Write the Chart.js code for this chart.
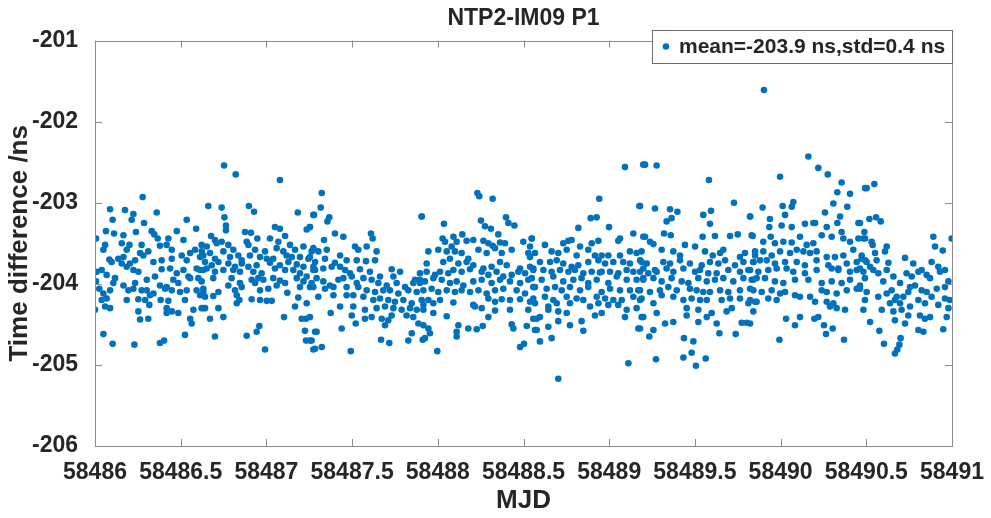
<!DOCTYPE html>
<html>
<head>
<meta charset="utf-8">
<title>NTP2-IM09 P1</title>
<script src="https://cdn.jsdelivr.net/npm/chart.js@4.4.1/dist/chart.umd.min.js"></script>
<style>
  html, body { margin: 0; padding: 0; background: #fff; }
  #wrap { width: 991px; height: 518px; }
</style>
</head>
<body>
<div id="wrap"><canvas id="chart" width="991" height="518"></canvas></div>
<script>
"use strict";

// Axis ticks
const xTicks = [58486, 58486.5, 58487, 58487.5, 58488, 58488.5, 58489, 58489.5, 58490, 58490.5, 58491];
const yTicks = [-206, -205, -204, -203, -202, -201];

const chartTitle = 'NTP2-IM09 P1';
const xTitle = 'MJD';
const yTitle = 'Time difference /ns';
const seriesLabel = 'mean=-203.9 ns,std=0.4 ns';

// [MJD, time difference (ns)]
const points = [
  [58486.278,-202.93],
  [58486.088,-203.08],[58486.175,-203.09],[58486.360,-203.12],[58486.224,-203.14],
  [58486.103,-203.21],[58486.535,-203.21],[58486.286,-203.25],[58486.214,-203.21],
  [58486.006,-203.44],[58486.064,-203.35],[58486.111,-203.38],[58486.166,-203.40],[58486.239,-203.36],[58486.331,-203.35],[58486.346,-203.39],[58486.366,-203.44],[58486.428,-203.44],[58486.477,-203.35],[58486.590,-203.32],
  [58486.059,-203.52],[58486.156,-203.50],[58486.201,-203.52],[58486.272,-203.52],[58486.379,-203.53],[58486.418,-203.52],[58486.516,-203.46],[58486.448,-203.58],[58486.049,-203.58],[58486.185,-203.58],[58486.263,-203.62],[58486.311,-203.60],[58486.555,-203.62],[58486.584,-203.58],[58486.623,-203.60],
  [58486.084,-203.70],[58486.136,-203.69],[58486.166,-203.67],[58486.204,-203.75],[58486.234,-203.71],[58486.282,-203.65],[58486.341,-203.73],[58486.389,-203.71],[58486.448,-203.69],[58486.506,-203.65],[58486.535,-203.71],[58486.613,-203.67],
  [58486.010,-203.85],[58486.039,-203.83],[58486.097,-203.73],[58486.156,-203.75],[58486.185,-203.79],[58486.224,-203.83],[58486.253,-203.85],[58486.389,-203.82],[58486.438,-203.81],[58486.477,-203.87],[58486.516,-203.83],[58486.555,-203.93],[58486.593,-203.81],[58486.632,-203.83],
  [58486.006,-203.97],[58486.068,-203.89],[58486.117,-203.93],[58486.107,-203.99],[58486.166,-204.02],[58486.234,-203.99],[58486.302,-203.95],[58486.350,-203.91],[58486.379,-204.02],[58486.418,-204.04],[58486.457,-203.95],[58486.486,-203.99],[58486.545,-203.91],[58486.603,-203.93],
  [58486.025,-204.06],[58486.049,-204.12],[58486.088,-204.08],[58486.195,-204.08],[58486.224,-204.06],[58486.272,-204.08],[58486.302,-204.08],[58486.341,-204.12],[58486.409,-204.06],[58486.448,-204.08],[58486.496,-204.10],[58486.535,-204.08],[58486.593,-204.08],[58486.632,-204.10],
  [58486.039,-204.20],[58486.068,-204.18],[58486.185,-204.20],[58486.253,-204.19],[58486.292,-204.20],[58486.321,-204.14],[58486.383,-204.20],[58486.428,-204.21],[58486.525,-204.20],[58486.613,-204.14],
  [58486.000,-204.32],[58486.059,-204.28],[58486.088,-204.30],[58486.253,-204.34],[58486.317,-204.26],[58486.418,-204.30],[58486.448,-204.34],[58486.486,-204.36],[58486.574,-204.32],[58486.632,-204.30],
  [58486.263,-204.44],[58486.311,-204.43],[58486.418,-204.36],[58486.555,-204.43],[58486.564,-204.49],
  [58486.049,-204.62],[58486.525,-204.63],
  [58486.103,-204.74],[58486.230,-204.75],[58486.379,-204.73],[58486.403,-204.70],

  [58486.753,-202.54],[58486.821,-202.65],[58487.079,-202.72],
  [58486.661,-203.04],[58486.739,-203.06],[58486.898,-203.04],[58486.928,-203.11],[58487.183,-203.12],[58487.274,-203.15],
  [58486.755,-203.18],[58486.764,-203.28],[58486.764,-203.34],[58487.050,-203.30],[58487.079,-203.32],[58487.235,-203.33],[58487.254,-203.30],
  [58486.677,-203.41],[58486.700,-203.46],[58486.875,-203.36],[58486.910,-203.37],[58486.947,-203.44],[58487.021,-203.44],[58487.070,-203.48],[58487.109,-203.41],[58486.885,-203.48],
  [58486.622,-203.52],[58486.652,-203.54],[58486.710,-203.50],[58486.739,-203.48],[58486.778,-203.52],[58486.807,-203.58],[58486.895,-203.52],[58486.934,-203.58],[58486.992,-203.60],[58487.060,-203.56],[58487.099,-203.60],[58487.138,-203.52],[58487.167,-203.58],[58487.216,-203.54],[58487.264,-203.60],
  [58486.632,-203.65],[58486.671,-203.62],[58486.700,-203.69],[58486.749,-203.60],[58486.788,-203.67],[58486.836,-203.65],[58486.856,-203.71],[58486.904,-203.65],[58486.963,-203.67],[58487.002,-203.69],[58487.040,-203.69],[58487.118,-203.65],[58487.148,-203.67],[58487.196,-203.67],[58487.245,-203.69],
  [58486.642,-203.73],[58486.681,-203.77],[58486.720,-203.73],[58486.778,-203.75],[58486.817,-203.79],[58486.856,-203.75],[58486.895,-203.79],[58486.943,-203.77],[58487.021,-203.74],[58487.079,-203.77],[58487.128,-203.73],[58487.177,-203.76],[58487.216,-203.79],[58487.274,-203.79],
  [58486.613,-203.83],[58486.652,-203.81],[58486.700,-203.85],[58486.749,-203.83],[58486.807,-203.83],[58486.846,-203.85],[58486.924,-203.85],[58486.972,-203.87],[58487.050,-203.81],[58487.109,-203.83],[58487.157,-203.83],[58487.196,-203.87],[58487.235,-203.91],[58487.274,-203.83],
  [58486.622,-203.97],[58486.690,-203.93],[58486.797,-203.93],[58486.846,-203.99],[58486.914,-203.95],[58486.953,-203.93],[58486.982,-203.95],[58487.040,-203.93],[58487.079,-203.96],[58487.109,-203.99],[58487.177,-203.93],[58487.216,-203.97],[58487.264,-203.99],
  [58486.632,-204.06],[58486.720,-204.10],[58486.778,-204.02],[58486.817,-204.08],[58486.856,-204.04],[58486.934,-203.99],[58486.963,-204.08],[58487.011,-204.06],[58487.060,-204.02],[58487.196,-204.04],[58487.254,-204.04],
  [58486.642,-204.16],[58486.690,-204.15],[58486.827,-204.14],[58486.842,-204.20],[58486.914,-204.19],[58486.963,-204.20],[58487.002,-204.21],[58487.031,-204.21],[58487.122,-204.11],[58487.186,-204.17],
  [58486.622,-204.30],[58486.642,-204.30],[58486.720,-204.30],[58486.827,-204.24],[58487.167,-204.28],[58487.235,-204.24],
  [58486.671,-204.43],[58486.749,-204.41],[58487.103,-204.41],[58487.206,-204.43],[58487.231,-204.43],
  [58486.959,-204.52],[58486.943,-204.59],[58487.225,-204.58],[58487.284,-204.59],
  [58486.700,-204.65],[58486.885,-204.64],[58487.231,-204.70],[58487.264,-204.70],[58486.992,-204.81],[58487.274,-204.81],

  [58487.323,-202.88],[58487.317,-203.06],[58487.278,-203.15],[58487.367,-203.18],[58487.356,-203.23],[58487.906,-203.17],
  [58487.254,-203.30],[58487.400,-203.38],[58487.449,-203.42],[58487.336,-203.46],[58487.610,-203.38],[58487.620,-203.44],
  [58487.274,-203.56],[58487.303,-203.60],[58487.352,-203.58],[58487.430,-203.65],[58487.517,-203.54],[58487.536,-203.58],[58487.585,-203.54],[58487.643,-203.60],[58487.254,-203.67],
  [58487.284,-203.73],[58487.342,-203.69],[58487.400,-203.74],[58487.468,-203.71],[58487.527,-203.71],[58487.581,-203.72],[58487.634,-203.71],[58487.731,-203.82],
  [58487.284,-203.83],[58487.332,-203.81],[58487.381,-203.79],[58487.430,-203.79],[58487.459,-203.83],[58487.488,-203.87],[58487.546,-203.82],[58487.604,-203.85],[58487.663,-203.91],[58487.741,-203.91],[58487.780,-203.85],[58487.867,-203.95],[58487.896,-203.95],
  [58487.293,-203.93],[58487.332,-203.97],[58487.371,-204.02],[58487.420,-203.95],[58487.449,-203.93],[58487.498,-203.91],[58487.527,-203.99],[58487.566,-203.93],[58487.614,-203.95],[58487.653,-203.99],[58487.702,-204.02],[58487.760,-203.99],[58487.809,-204.04],[58487.857,-203.99],
  [58487.274,-204.04],[58487.342,-204.06],[58487.391,-204.04],[58487.468,-204.04],[58487.536,-204.04],[58487.585,-204.08],[58487.634,-204.10],[58487.682,-204.08],[58487.721,-204.08],[58487.770,-204.12],[58487.828,-204.08],[58487.877,-204.10],
  [58487.303,-204.16],[58487.391,-204.14],[58487.468,-204.14],[58487.507,-204.14],[58487.566,-204.16],[58487.624,-204.20],[58487.663,-204.18],[58487.711,-204.20],[58487.750,-204.22],[58487.799,-204.20],[58487.848,-204.24],[58487.906,-204.20],
  [58487.430,-204.28],[58487.507,-204.28],[58487.575,-204.32],[58487.643,-204.30],[58487.692,-204.28],[58487.741,-204.30],[58487.789,-204.32],[58487.838,-204.30],[58487.877,-204.32],[58487.916,-204.26],
  [58487.375,-204.36],[58487.498,-204.39],[58487.575,-204.43],[58487.614,-204.41],[58487.673,-204.43],[58487.711,-204.45],[58487.731,-204.39],[58487.818,-204.39],[58487.857,-204.41],[58487.887,-204.49],[58487.254,-204.41],
  [58487.439,-204.55],[58487.521,-204.49],[58487.692,-204.51],[58487.848,-204.61],[58487.293,-204.59],[58487.828,-204.70],[58487.254,-204.70],[58487.669,-204.69],[58487.717,-204.73],[58487.912,-204.69],
  [58487.284,-204.80],[58487.323,-204.78],[58487.492,-204.83],

  [58488.231,-202.88],[58488.242,-202.92],[58488.320,-202.95],
  [58487.906,-203.17],[58488.036,-203.26],[58488.252,-203.22],[58488.275,-203.29],[58488.310,-203.32],[58488.398,-203.18],[58488.412,-203.25],[58488.447,-203.28],
  [58488.028,-203.44],[58488.042,-203.48],[58488.091,-203.42],[58488.110,-203.48],[58488.143,-203.39],[58488.168,-203.47],[58488.207,-203.46],[58488.266,-203.47],[58488.295,-203.50],[58488.320,-203.53],[58488.353,-203.39],[58488.363,-203.49],[58488.392,-203.50],[58488.499,-203.48],[58488.548,-203.44],
  [58487.945,-203.60],[58488.003,-203.58],[58488.052,-203.60],[58488.081,-203.54],[58488.100,-203.60],[58488.139,-203.62],[58488.178,-203.69],[58488.237,-203.58],[58488.285,-203.62],[58488.334,-203.56],[58488.373,-203.62],[58488.431,-203.58],[58488.528,-203.62],
  [58487.935,-203.75],[58488.032,-203.73],[58488.071,-203.69],[58488.120,-203.75],[58488.168,-203.73],[58488.207,-203.77],[58488.266,-203.81],[58488.314,-203.79],[58488.363,-203.73],[58488.402,-203.77],[58488.480,-203.81],[58488.538,-203.79],
  [58487.896,-203.87],[58487.935,-203.85],[58487.984,-203.89],[58488.013,-203.85],[58488.061,-203.87],[58488.091,-203.83],[58488.139,-203.85],[58488.188,-203.82],[58488.256,-203.85],[58488.295,-203.89],[58488.343,-203.85],[58488.382,-203.91],[58488.431,-203.89],[58488.470,-203.85],[58488.509,-203.87],[58488.557,-203.83],
  [58487.896,-203.99],[58487.925,-203.97],[58487.974,-203.93],[58488.023,-203.95],[58488.071,-203.99],[58488.110,-203.97],[58488.149,-204.02],[58488.207,-203.97],[58488.256,-203.95],[58488.314,-203.99],[58488.363,-203.95],[58488.421,-203.97],[58488.480,-203.99],[58488.528,-203.95],
  [58487.916,-204.08],[58487.964,-204.06],[58488.003,-204.10],[58488.052,-204.08],[58488.100,-204.10],[58488.139,-204.08],[58488.188,-204.10],[58488.237,-204.08],[58488.285,-204.12],[58488.334,-204.08],[58488.382,-204.06],[58488.460,-204.08],[58488.509,-204.12],[58488.557,-204.04],
  [58487.945,-204.20],[58487.974,-204.24],[58488.013,-204.20],[58488.091,-204.23],[58488.207,-204.26],[58488.256,-204.30],[58488.295,-204.18],[58488.373,-204.19],[58488.421,-204.20],[58488.480,-204.19],[58488.538,-204.22],[58488.334,-204.22],
  [58487.916,-204.32],[58487.974,-204.36],[58488.052,-204.40],[58488.217,-204.28],[58488.295,-204.41],[58488.334,-204.33],[58488.421,-204.32],[58488.528,-204.32],[58488.557,-204.43],
  [58487.916,-204.51],[58487.945,-204.55],[58488.120,-204.51],[58488.110,-204.59],[58488.178,-204.55],[58488.227,-204.56],[58488.262,-204.52],[58488.431,-204.50],[58488.441,-204.55],[58488.519,-204.52],[58488.567,-204.57],
  [58487.925,-204.67],[58487.954,-204.61],[58488.110,-204.65],[58487.997,-204.83],[58488.480,-204.78],[58488.503,-204.74],

  [58489.092,-202.56],[58489.199,-202.53],
  [58488.942,-202.95],[58489.176,-203.04],
  [58488.892,-203.19],[58488.927,-203.18],[58488.820,-203.31],[58488.999,-203.30],[58489.141,-203.38],
  [58488.548,-203.44],[58488.625,-203.52],[58488.732,-203.50],[58488.762,-203.47],[58488.781,-203.46],[58488.830,-203.54],[58488.898,-203.50],[58488.937,-203.47],[58489.053,-203.47],[58489.063,-203.44],[58489.199,-203.42],[58488.538,-203.54],
  [58488.567,-203.62],[58488.664,-203.60],[58488.703,-203.62],[58488.752,-203.58],[58488.810,-203.65],[58488.878,-203.58],[58488.917,-203.65],[58488.956,-203.65],[58488.995,-203.65],[58489.063,-203.65],[58489.121,-203.60],[58489.160,-203.62],[58489.189,-203.60],
  [58488.538,-203.67],[58488.596,-203.73],[58488.655,-203.73],[58488.694,-203.71],[58488.732,-203.75],[58488.781,-203.79],[58488.820,-203.77],[58488.878,-203.73],[58488.937,-203.71],[58488.976,-203.75],[58489.024,-203.73],[58489.082,-203.73],[58489.121,-203.75],[58489.180,-203.71],[58488.946,-203.86],
  [58488.557,-203.81],[58488.616,-203.83],[58488.664,-203.85],[58488.713,-203.83],[58488.762,-203.85],[58488.800,-203.83],[58488.849,-203.87],[58488.898,-203.85],[58488.956,-203.85],[58489.005,-203.85],[58489.053,-203.87],[58489.102,-203.83],[58489.141,-203.85],[58489.199,-203.81],
  [58488.548,-203.93],[58488.606,-203.95],[58488.674,-203.91],[58488.732,-203.97],[58488.791,-203.95],[58488.839,-203.93],[58488.878,-203.99],[58488.927,-203.95],[58488.995,-203.99],[58489.044,-203.91],[58489.102,-203.95],[58489.160,-203.95],[58489.199,-203.93],
  [58488.567,-204.04],[58488.635,-204.06],[58488.684,-204.04],[58488.723,-204.08],[58488.771,-204.04],[58488.830,-204.08],[58488.878,-204.04],[58488.956,-204.10],[58489.005,-204.06],[58489.063,-204.08],[58489.121,-204.08],[58489.170,-204.08],
  [58488.557,-204.18],[58488.625,-204.16],[58488.674,-204.20],[58488.752,-204.16],[58488.810,-204.18],[58488.849,-204.20],[58488.927,-204.16],[58488.976,-204.18],[58489.024,-204.20],[58489.073,-204.20],[58489.141,-204.16],[58489.180,-204.20],
  [58488.567,-204.24],[58488.645,-204.28],[58488.694,-204.24],[58488.771,-204.24],[58488.888,-204.28],[58488.937,-204.24],[58488.995,-204.26],[58489.053,-204.26],[58489.102,-204.32],[58489.160,-204.30],
  [58488.577,-204.43],[58488.645,-204.32],[58488.703,-204.34],[58488.752,-204.36],[58488.917,-204.39],[58488.956,-204.36],[58489.092,-204.41],[58489.189,-204.41],[58488.596,-204.41],
  [58488.645,-204.53],[58488.703,-204.46],[58488.771,-204.51],[58488.839,-204.46],[58488.577,-204.57],[58488.849,-204.58],[58489.170,-204.55],
  [58488.664,-204.67],[58488.596,-204.71],[58489.112,-204.98],[58488.703,-205.17],

  [58489.209,-202.53],[58489.277,-202.54],[58489.582,-202.72],
  [58489.180,-203.04],[58489.267,-203.07],[58489.355,-203.08],[58489.398,-203.11],[58489.549,-203.15],[58489.594,-203.10],[58489.588,-203.26],[58489.728,-203.00],[58489.822,-203.17],
  [58489.335,-203.23],[58489.364,-203.19],[58489.320,-203.38],[58489.359,-203.40],[58489.545,-203.42],[58489.617,-203.41],[58489.705,-203.41],[58489.750,-203.39],[58489.831,-203.40],
  [58489.209,-203.42],[58489.238,-203.48],[58489.258,-203.51],[58489.442,-203.52],[58489.501,-203.54],[58489.666,-203.58],[58489.647,-203.62],[58489.306,-203.58],[58489.374,-203.60],[58489.413,-203.65],[58489.559,-203.60],[58489.604,-203.65],[58489.763,-203.67],[58489.792,-203.62],[58489.851,-203.60],
  [58489.189,-203.73],[58489.219,-203.75],[58489.267,-203.83],[58489.316,-203.73],[58489.355,-203.75],[58489.413,-203.71],[58489.471,-203.75],[58489.540,-203.77],[58489.588,-203.73],[58489.637,-203.75],[58489.676,-203.71],[58489.734,-203.77],[58489.783,-203.73],[58489.841,-203.73],
  [58489.180,-203.85],[58489.228,-203.87],[58489.277,-203.85],[58489.335,-203.81],[58489.374,-203.85],[58489.433,-203.81],[58489.501,-203.85],[58489.530,-203.83],[58489.578,-203.87],[58489.627,-203.87],[58489.695,-203.83],[58489.763,-203.85],[58489.812,-203.83],
  [58489.199,-203.95],[58489.258,-203.93],[58489.306,-203.97],[58489.364,-203.93],[58489.423,-203.97],[58489.462,-203.99],[58489.520,-203.93],[58489.569,-203.97],[58489.617,-203.95],[58489.666,-203.93],[58489.724,-203.97],[58489.783,-203.93],[58489.841,-203.95],
  [58489.180,-204.08],[58489.238,-204.10],[58489.296,-204.08],[58489.345,-204.04],[58489.394,-204.08],[58489.471,-204.06],[58489.510,-204.08],[58489.549,-204.10],[58489.588,-204.10],[58489.647,-204.08],[58489.695,-204.10],[58489.763,-204.08],[58489.822,-204.06],
  [58489.189,-204.18],[58489.258,-204.24],[58489.306,-204.14],[58489.374,-204.16],[58489.433,-204.20],[58489.481,-204.18],[58489.530,-204.20],[58489.569,-204.20],[58489.656,-204.20],[58489.705,-204.18],[58489.763,-204.18],[58489.812,-204.24],[58489.851,-204.22],
  [58489.199,-204.41],[58489.277,-204.36],[58489.326,-204.49],[58489.374,-204.47],[58489.452,-204.39],[58489.520,-204.47],[58489.569,-204.41],[58489.598,-204.36],[58489.627,-204.49],[58489.685,-204.34],[58489.715,-204.30],[58489.773,-204.48],[58489.802,-204.48],[58489.452,-204.30],[58489.520,-204.32],
  [58489.180,-204.55],[58489.258,-204.57],[58489.234,-204.65],[58489.436,-204.67],[58489.491,-204.71],[58489.643,-204.61],[58489.738,-204.62],
  [58489.481,-204.85],[58489.433,-204.91],[58489.563,-204.92],[58489.273,-204.93],[58489.506,-205.01],

  [58489.903,-201.61],
  [58490.162,-202.43],[58490.220,-202.57],[58490.275,-202.65],[58489.997,-202.68],[58490.356,-202.75],[58490.331,-202.87],[58490.405,-202.89],[58490.493,-202.82],
  [58489.895,-203.06],[58490.012,-203.04],[58490.074,-202.99],[58490.065,-203.05],[58490.026,-203.15],[58490.308,-203.01],[58490.389,-203.05],[58490.347,-203.17],[58490.259,-203.12],[58489.822,-203.17],
  [58489.938,-203.20],[58489.934,-203.30],[58490.006,-203.28],[58490.065,-203.30],[58490.142,-203.26],[58490.191,-203.25],[58490.201,-203.25],[58490.269,-203.30],[58490.331,-203.25],[58490.356,-203.36],[58490.454,-203.25],[58490.489,-203.36],[58489.837,-203.41],
  [58489.899,-203.48],[58489.942,-203.42],[58489.967,-203.50],[58490.016,-203.48],[58490.065,-203.49],[58490.113,-203.42],[58490.152,-203.52],[58490.191,-203.50],[58490.240,-203.40],[58490.298,-203.42],[58490.366,-203.44],[58490.405,-203.48],[58490.454,-203.44],[58490.493,-203.44],
  [58489.851,-203.65],[58489.899,-203.60],[58489.948,-203.65],[58489.997,-203.60],[58490.055,-203.62],[58490.094,-203.58],[58490.133,-203.60],[58490.172,-203.62],[58490.210,-203.60],[58490.269,-203.67],[58490.317,-203.67],[58490.366,-203.65],[58490.424,-203.58],[58490.473,-203.65],
  [58489.841,-203.73],[58489.880,-203.71],[58489.919,-203.71],[58489.967,-203.75],[58490.026,-203.73],[58490.094,-203.73],[58490.142,-203.77],[58490.210,-203.71],[58490.279,-203.77],[58490.337,-203.81],[58490.386,-203.75],[58490.444,-203.73],[58490.493,-203.71],
  [58489.822,-203.83],[58489.870,-203.85],[58489.928,-203.83],[58489.977,-203.81],[58490.035,-203.81],[58490.074,-203.85],[58490.142,-203.87],[58490.210,-203.83],[58490.298,-203.81],[58490.337,-203.83],[58490.405,-203.85],[58490.444,-203.83],[58490.483,-203.85],
  [58489.831,-203.95],[58489.860,-203.93],[58489.909,-203.93],[58489.967,-203.97],[58490.016,-203.99],[58490.084,-203.95],[58490.162,-203.95],[58490.240,-203.99],[58490.298,-203.97],[58490.356,-203.99],[58490.405,-203.95],[58490.463,-204.02],
  [58489.841,-204.08],[58489.890,-204.10],[58489.948,-204.08],[58489.997,-204.12],[58490.026,-204.10],[58490.084,-204.14],[58490.113,-204.16],[58490.172,-204.16],[58490.240,-204.08],[58490.269,-204.10],[58490.327,-204.12],[58490.386,-204.08],[58490.444,-204.06],
  [58489.822,-204.20],[58489.860,-204.22],[58489.928,-204.18],[58489.977,-204.20],[58490.201,-204.22],[58490.269,-204.22],[58490.308,-204.24],[58490.288,-204.28],[58490.327,-204.30],[58490.376,-204.32],[58490.483,-204.32],[58489.841,-204.34],
  [58490.032,-204.43],[58490.113,-204.41],[58490.197,-204.43],[58490.220,-204.41],[58490.084,-204.51],[58490.253,-204.51],[58490.304,-204.55],[58490.265,-204.62],
  [58489.993,-204.69],[58490.370,-204.69],[58489.822,-204.49],

  [58490.502,-202.82],[58490.547,-202.77],
  [58490.518,-203.20],[58490.557,-203.18],[58490.584,-203.23],[58490.463,-203.25],[58490.531,-203.48],[58490.537,-203.52],[58490.483,-203.44],
  [58490.891,-203.42],[58490.998,-203.44],[58490.901,-203.54],[58490.946,-203.59],[58490.619,-203.54],[58490.609,-203.60],[58490.726,-203.68],
  [58490.473,-203.69],[58490.502,-203.73],[58490.551,-203.62],[58490.560,-203.71],[58490.629,-203.74],[58490.774,-203.75],[58490.881,-203.73],[58490.920,-203.79],[58490.959,-203.83],[58490.930,-203.85],[58490.823,-203.83],[58490.852,-203.89],[58490.522,-203.79],[58490.463,-203.81],
  [58490.492,-203.93],[58490.570,-203.87],[58490.619,-203.83],[58490.658,-203.91],[58490.735,-203.87],[58490.765,-203.91],[58490.804,-203.85],[58490.872,-203.93],[58490.979,-203.97],[58490.599,-203.97],[58490.697,-203.99],[58490.541,-203.83],
  [58490.502,-204.10],[58490.570,-204.16],[58490.619,-204.12],[58490.677,-204.16],[58490.716,-204.16],[58490.755,-204.04],[58490.784,-204.02],[58490.823,-204.08],[58490.852,-204.10],[58490.911,-204.06],[58490.959,-204.04],[58490.463,-204.06],[58490.648,-204.08],[58490.745,-204.10],
  [58490.492,-204.20],[58490.590,-204.32],[58490.638,-204.24],[58490.667,-204.20],[58490.697,-204.24],[58490.755,-204.28],[58490.804,-204.20],[58490.842,-204.24],[58490.881,-204.16],[58490.920,-204.26],[58490.959,-204.18],[58490.988,-204.20],
  [58490.658,-204.34],[58490.706,-204.32],[58490.745,-204.39],[58490.813,-204.39],[58490.842,-204.43],[58490.872,-204.41],[58490.969,-204.41],[58490.979,-204.30],
  [58490.522,-204.47],[58490.667,-204.45],[58490.726,-204.49],[58490.804,-204.57],[58490.833,-204.59],[58490.949,-204.56],[58490.576,-204.58],
  [58490.700,-204.67],[58490.693,-204.75],[58490.681,-204.81],[58490.667,-204.86],[58490.603,-204.74]
];

const textColor = '#262626';
const axisColor = '#8a8a8a';
const markerColor = '#0072BD';
const fontFamily = "'Liberation Sans', Arial, Helvetica, sans-serif";

// Box round the axes, inward ticks on all four sides, and a boxed legend
const matlabAxes = {
    id: 'matlabAxes',
    afterDatasetsDraw(chart) {
        const ctx = chart.ctx;
        const a = chart.chartArea;
        const xs = chart.scales.x;
        const ys = chart.scales.y;
        const tick = 7;

        ctx.save();
        ctx.strokeStyle = axisColor;
        ctx.lineWidth = 1;
        ctx.strokeRect(Math.round(a.left) + 0.5, Math.round(a.top) + 0.5,
            Math.round(a.right - a.left), Math.round(a.bottom - a.top));

        ctx.beginPath();
        xTicks.forEach(v => {
            const px = Math.round(xs.getPixelForValue(v)) + 0.5;
            ctx.moveTo(px, a.bottom); ctx.lineTo(px, a.bottom - tick);
            ctx.moveTo(px, a.top); ctx.lineTo(px, a.top + tick);
        });
        yTicks.forEach(v => {
            const py = Math.round(ys.getPixelForValue(v)) + 0.5;
            ctx.moveTo(a.left, py); ctx.lineTo(a.left + tick, py);
            ctx.moveTo(a.right, py); ctx.lineTo(a.right - tick, py);
        });
        ctx.stroke();

        // Legend
        ctx.font = 'bold 21px ' + fontFamily;
        const tw = ctx.measureText(seriesLabel).width;
        const bw = Math.round(tw + 34);
        const bh = 33;
        const bx = Math.round(a.right) - bw;
        const by = Math.round(a.top) - 11;
        ctx.fillStyle = '#ffffff';
        ctx.fillRect(bx, by, bw, bh);
        ctx.strokeStyle = '#6e6e6e';
        ctx.strokeRect(bx + 0.5, by + 0.5, bw, bh);
        ctx.fillStyle = markerColor;
        ctx.beginPath();
        ctx.arc(bx + 14, by + bh / 2, 3.3, 0, Math.PI * 2);
        ctx.fill();
        ctx.fillStyle = textColor;
        ctx.textBaseline = 'middle';
        ctx.fillText(seriesLabel, bx + 27, by + bh / 2 + 1);
        ctx.restore();
    }
};

const ctx = document.getElementById('chart').getContext('2d');
const chart = new Chart(ctx, {
    type: 'scatter',
    data: {
        datasets: [{
            label: seriesLabel,
            data: points.map(p => ({ x: p[0], y: p[1] })),
            pointRadius: 3.3,
            pointHoverRadius: 3.3,
            pointBorderWidth: 0,
            pointBackgroundColor: markerColor,
            pointBorderColor: markerColor
        }]
    },
    options: {
        responsive: false,
        animation: false,
        devicePixelRatio: 1,
        layout: { padding: { left: 0, right: 39, top: 0, bottom: 0 } },
        plugins: {
            legend: { display: false },
            tooltip: { enabled: false },
            title: {
                display: true,
                text: chartTitle,
                fullSize: false,
                color: textColor,
                font: { family: fontFamily, size: 23, weight: 'bold' },
                padding: { top: 5, bottom: 8 }
            }
        },
        scales: {
            x: {
                type: 'linear',
                min: 58486,
                max: 58491,
                afterBuildTicks: s => { s.ticks = xTicks.map(v => ({ value: v })); },
                afterFit: s => { s.height = 72; },
                grid: { display: false },
                border: { display: false },
                ticks: {
                    autoSkip: false,
                    maxRotation: 0,
                    padding: 5,
                    color: textColor,
                    font: { family: fontFamily, size: 23, weight: 'bold' },
                    callback: v => String(v)
                },
                title: {
                    display: true,
                    text: xTitle,
                    color: textColor,
                    font: { family: fontFamily, size: 26, weight: 'bold' },
                    padding: { top: 2, bottom: 2 }
                }
            },
            y: {
                type: 'linear',
                min: -206,
                max: -201,
                afterBuildTicks: s => { s.ticks = yTicks.map(v => ({ value: v })); },
                afterFit: s => { s.width = 95; },
                grid: { display: false },
                border: { display: false },
                ticks: {
                    padding: 9,
                    color: textColor,
                    font: { family: fontFamily, size: 23, weight: 'bold' },
                    callback: v => String(v)
                },
                title: {
                    display: true,
                    text: yTitle,
                    color: textColor,
                    font: { family: fontFamily, size: 26, weight: 'bold' },
                    padding: { top: 4, bottom: 4 }
                }
            }
        }
    },
    plugins: [matlabAxes]
});
</script>
</body>
</html>
